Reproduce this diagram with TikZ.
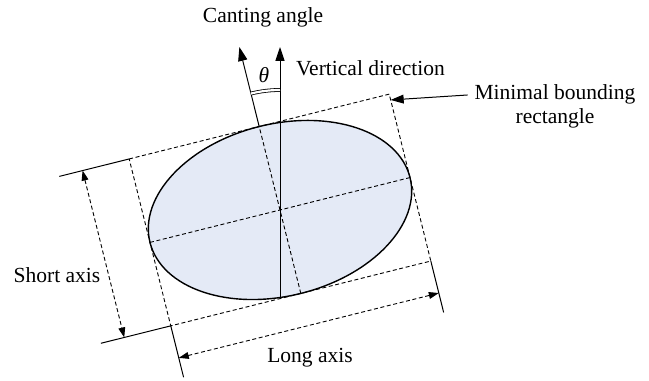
\documentclass[tikz,border=0pt]{standalone}
\usepackage{fontspec}
\setmainfont{Liberation Serif}
\usetikzlibrary{arrows.meta,calc}
\definecolor{elfill}{HTML}{E4EAF6}
\definecolor{ink}{HTML}{000000}
\tikzset{
  lbl/.style={font=\fontsize{10.8}{12}\selectfont, text=ink},
  sld/.style={draw=ink, line width=0.5bp},
  dsh/.style={draw=ink, line width=0.45bp, dash pattern=on 2bp off 1.3bp},
  arr/.style={sld, -{Triangle[length=7bp,width=4.6bp]}},
  dim/.style={dsh, {Triangle[length=5bp,width=3.4bp]}-{Triangle[length=5bp,width=3.4bp]}},
  ang/.style={draw=ink, line width=0.4bp, double, double distance=1.1bp},
}
\begin{document}
\begin{tikzpicture}[x=0.5bp, y=0.5bp]
  \useasboundingbox (0,0) rectangle (649,381);
  % ellipse, axes and bounding rectangle (rotated frame)
  \begin{scope}[shift={(280,171)}, rotate=14]
    \coordinate (c) at (0,0);
    \coordinate (nw) at (-134,86);  \coordinate (ne) at (134,86);
    \coordinate (se) at (134,-86);  \coordinate (sw) at (-134,-86);
    \coordinate (lw) at (-134,0);   \coordinate (le) at (134,0);
    \coordinate (st) at (0,86);     \coordinate (sb) at (0,-86);
    \coordinate (ct) at (0,168);
    \coordinate (tl) at (-206,86);  \coordinate (bl) at (-206,-86);
    \coordinate (ld) at (-134,-139); \coordinate (rd) at (134,-139);
    \coordinate (sa1) at (-182,86); \coordinate (sa2) at (-182,-86);
    \coordinate (la1) at (-134,-119); \coordinate (la2) at (134,-119);
    \coordinate (tip) at (134,80);
    \fill[elfill] (c) ellipse [x radius=134, y radius=86];
    \draw[dsh] (lw) -- (le);
    \draw[dsh] (sb) -- (st);
    \draw[draw=ink, line width=0.7bp] (c) ellipse [x radius=134, y radius=86];
    \draw[dsh] (nw) -- (ne) -- (se) -- (sw) -- cycle;
    \draw[sld] (nw) -- (tl);
    \draw[sld] (sw) -- (bl);
    \draw[sld] (sw) -- (ld);
    \draw[sld] (se) -- (rd);
    \draw[dim] (sa1) -- (sa2);
    \draw[dim] (la1) -- (la2);
  \end{scope}
  \coordinate (vb) at (280,83.5);
  \coordinate (vt) at (280,334);
  \draw[arr] (st) -- (ct);
  \draw[arr] (vb) -- (vt);
  \draw[ang] ($(c)+(90:120)$) arc[start angle=90, end angle=104, radius=120];
  % labels
  \node[lbl] (cant) at (263,364) {Canting angle};
  \node[lbl, anchor=west] (vert) at (289,313) {Vertical direction};
  \node[lbl] (th) at (264,306) {\itshape θ};
  \node[lbl] (short) at (57,106) {Short axis};
  \node[lbl] (long) at (310,23) {Long axis};
  \node[lbl, align=center] (mbr) at (555,275) {Minimal bounding\\rectangle};
  \draw[arr, -{Triangle[length=6.5bp,width=4.4bp]}] ([yshift=5.5bp]mbr.west) -- (tip);
\end{tikzpicture}
\end{document}
